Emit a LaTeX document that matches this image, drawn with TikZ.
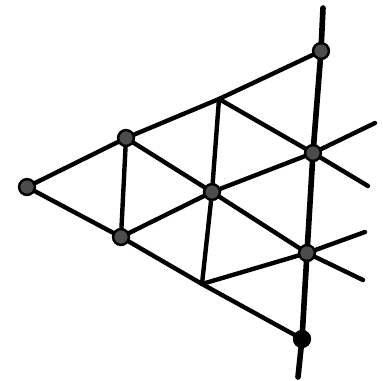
\documentclass[tikz,border=0pt]{standalone}
\begin{document}
\begin{tikzpicture}[x=0.02cm, y=-0.02cm,
    edge/.style={line width=2.5pt, line cap=round},
    spine/.style={line width=3.2pt, line cap=round},
    dot/.style={circle, draw=black, fill=black!70, line width=1.4pt, inner sep=0pt, minimum size=9pt}]
      \useasboundingbox (0,0) rectangle (383,380);

      % lattice points
      \coordinate (a) at (27,187);
      \coordinate (b) at (126,138);
      \coordinate (c) at (121,237);
      \coordinate (d) at (219,99);
      \coordinate (e) at (212,192);
      \coordinate (f) at (202,284);
      \coordinate (g) at (321,51);
      \coordinate (h) at (313,153);
      \coordinate (i) at (307,253);
      \coordinate (j) at (302,339);

      % free ends
      \coordinate (top) at (323,8);
      \coordinate (bot) at (298,377);
      \coordinate (h1) at (375,123);
      \coordinate (h2) at (368,186);
      \coordinate (i1) at (365,232);
      \coordinate (i2) at (363,280);

      \draw[edge] (a) -- (b) -- (d) -- (g);
      \draw[edge] (a) -- (c) -- (f) -- (j);
      \draw[edge] (b) -- (c);
      \draw[edge] (d) -- (e) -- (f);
      \draw[edge] (b) -- (e) -- (i) -- (i2);
      \draw[edge] (d) -- (h) -- (h2);
      \draw[edge] (c) -- (e) -- (h) -- (h1);
      \draw[edge] (f) -- (i) -- (i1);
      \draw[spine] (top) -- (g) -- (h) -- (i) -- (j) -- (bot);

      \foreach \p in {a,b,c,e,g,h,i}
        \node[dot] (n\p) at (\p) {};
      \node[dot, fill=black] (nj) at (j) {};
\end{tikzpicture}
\end{document}
